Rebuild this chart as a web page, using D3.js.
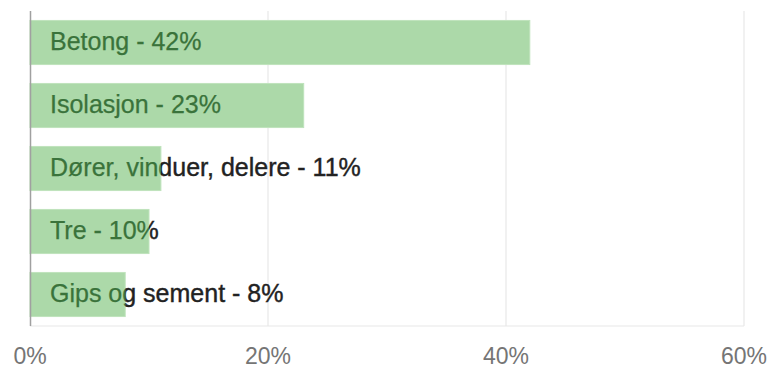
<!DOCTYPE html>
<html>
<head>
<meta charset="utf-8">
<script src="https://cdn.jsdelivr.net/npm/d3@7"></script>
<style>
  html, body { margin: 0; padding: 0; background: #fff; }
  svg { display: block; font-family: "Liberation Sans", Arial, sans-serif; }
</style>
</head>
<body>
<svg id="chart" width="771" height="369"></svg>
<script>
// Material shares (fractions)
const categories = ["Betong", "Isolasjon", "Dører, vinduer, delere", "Tre", "Gips og sement"];
const values = [0.42, 0.23, 0.11, 0.10, 0.08];
const tickValues = [0, 0.2, 0.4, 0.6];
const tickLabels = ["0%", "20%", "40%", "60%"];

const barFill = "#acd9a9";
const barStroke = "#bfe3bc";
const insideText = "#3a733b";
const outsideText = "#222222";

const svg = d3.select("#chart");
const plot = { left: 30, right: 744, top: 11, bottom: 326 };

const x = d3.scaleLinear().domain([0, 0.6]).range([plot.left, plot.right]);
const y = d3.scaleBand().domain(categories)
  .range([plot.top, plot.bottom]).paddingInner(0.3).paddingOuter(0.15);

// Vertical gridlines
svg.append("g").selectAll("line").data(tickValues.slice(1)).join("line")
  .attr("x1", d => x(d)).attr("x2", d => x(d))
  .attr("y1", plot.top).attr("y2", plot.bottom)
  .attr("stroke", "#e8e8e8").attr("stroke-width", 1.2);

// Bottom baseline
svg.append("line")
  .attr("x1", plot.left).attr("x2", plot.right)
  .attr("y1", plot.bottom).attr("y2", plot.bottom)
  .attr("stroke", "#e8e8e8").attr("stroke-width", 1.2);

const rows = categories.map((c, i) => ({ cat: c, v: values[i], i }));
const label = d => `${d.cat} - ${Math.round(d.v * 100)}%`;

// Bars
svg.append("g").selectAll("rect").data(rows).join("rect")
  .attr("x", x(0)).attr("y", d => y(d.cat))
  .attr("width", d => x(d.v) - x(0)).attr("height", y.bandwidth())
  .attr("fill", barFill).attr("stroke", barStroke).attr("stroke-width", 1);

// Clip regions: over the bar, and to the right of it
const defs = svg.append("defs");
defs.selectAll("clipPath.in").data(rows).join("clipPath")
  .attr("class", "in")
  .attr("id", d => "clipIn" + d.i)
  .append("rect")
  .attr("x", x(0)).attr("y", d => y(d.cat) - 10)
  .attr("width", d => x(d.v) - x(0)).attr("height", y.bandwidth() + 20);
defs.selectAll("clipPath.out").data(rows).join("clipPath")
  .attr("class", "out")
  .attr("id", d => "clipOut" + d.i)
  .append("rect")
  .attr("x", d => x(d.v)).attr("y", d => y(d.cat) - 10)
  .attr("width", d => 771 - x(d.v)).attr("height", y.bandwidth() + 20);

const labels = svg.append("g").attr("font-size", 25);
// Part of each label beyond its bar
labels.selectAll("text.out").data(rows).join("text")
  .attr("class", "out")
  .attr("clip-path", d => `url(#clipOut${d.i})`)
  .attr("x", 50).attr("y", d => y(d.cat) + y.bandwidth() / 2 + 7)
  .attr("fill", outsideText)
  .attr("stroke", outsideText).attr("stroke-width", 0.4)
  .text(label);
// Part of each label over its bar
labels.selectAll("text.in").data(rows).join("text")
  .attr("class", "in")
  .attr("clip-path", d => `url(#clipIn${d.i})`)
  .attr("x", 50).attr("y", d => y(d.cat) + y.bandwidth() / 2 + 7)
  .attr("fill", insideText)
  .attr("stroke", insideText).attr("stroke-width", 0.25)
  .text(label);

// Left axis line
svg.append("line")
  .attr("x1", plot.left + 0.5).attr("x2", plot.left + 0.5)
  .attr("y1", plot.top).attr("y2", plot.bottom)
  .attr("stroke", "#a0a0a0").attr("stroke-width", 1.5);

// Tick labels
svg.append("g").selectAll("text").data(tickValues).join("text")
  .attr("x", d => x(d)).attr("y", 364)
  .attr("text-anchor", "middle")
  .attr("font-size", 23).attr("fill", "#757575")
  .text((d, i) => tickLabels[i]);
</script>
</body>
</html>
